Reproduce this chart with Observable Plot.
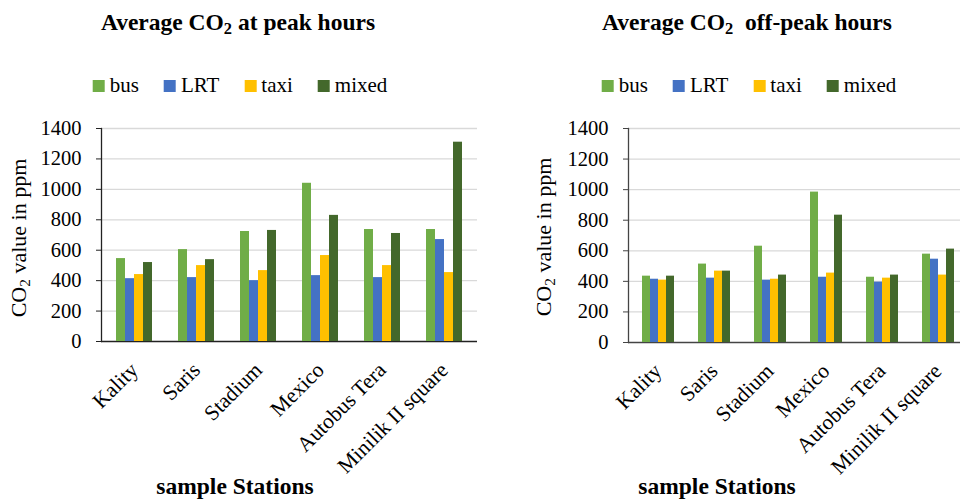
<!DOCTYPE html>
<html>
<head>
<meta charset="utf-8">
<script src="https://cdn.jsdelivr.net/npm/d3@7"></script>
<script src="https://cdn.jsdelivr.net/npm/@observablehq/plot@0.6"></script>
<style>
  html, body { margin: 0; padding: 0; background: #fff; overflow: hidden; }
  #page { position: relative; width: 960px; height: 499px; overflow: hidden;
          font-family: "Liberation Serif", "Times New Roman", serif; color: #000; }
  .abs { position: absolute; white-space: pre; line-height: 1; }
  .title { font-size: 23.5px; font-weight: bold; transform: translateX(-50%); }
  .xtitle { font-size: 23.5px; font-weight: bold; transform: translateX(-50%); }
  .ytitle { font-size: 22px; transform: translate(-50%, -50%) rotate(-90deg); }
  .legend { font-size: 21px; transform: translateX(-50%); }
  .legend .item { display: inline-block; margin-right: 25px; }
  .legend .item:last-child { margin-right: 0; }
  .legend .sw { display: inline-block; width: 12px; height: 12px; margin-right: 5px; }
  sub { font-size: 0.7em; vertical-align: -0.25em; line-height: 0; }
  svg { position: absolute; overflow: visible; }
</style>
</head>
<body>
<div id="page"></div>
<script>
// Sample stations along the route and the transport modes measured at each
const stations = ["Kality", "Saris", "Stadium", "Mexico", "Autobus Tera", "Minilik II square"];
const series = ["bus", "LRT", "taxi", "mixed"];
const colors = ["#70ad47", "#4472c4", "#ffc000", "#43682b"];
const yTicks = [0, 200, 400, 600, 800, 1000, 1200, 1400];

// Average CO2 (ppm) at peak hours, one array per mode, in station order
const peakBus   = [545, 604, 723, 1040, 736, 736];
const peakLRT   = [413, 420, 400, 433, 420, 670];
const peakTaxi  = [440, 499, 466, 565, 499, 453];
const peakMixed = [519, 538, 730, 829, 710, 1310];

// Average CO2 (ppm) at off-peak hours
const offBus   = [434, 513, 630, 984, 427, 578];
const offLRT   = [414, 421, 408, 427, 395, 545];
const offTaxi  = [408, 467, 414, 454, 421, 441];
const offMixed = [434, 467, 441, 833, 441, 611];

function toRows(cols) {
  const rows = [];
  stations.forEach((station, i) => {
    series.forEach((mode, j) => rows.push({station, mode, value: cols[j][i]}));
  });
  return rows;
}

const page = document.getElementById("page");

function addText(cls, html, left, top) {
  const d = document.createElement("div");
  d.className = "abs " + cls;
  d.innerHTML = html;
  d.style.left = left + "px";
  d.style.top = top + "px";
  page.appendChild(d);
  return d;
}

function addLegend(cx, top) {
  const d = addText("legend", "", cx, top);
  series.forEach((s, i) => {
    const item = document.createElement("span");
    item.className = "item";
    item.innerHTML = `<span class="sw" style="background:${colors[i]}"></span>${s}`;
    d.appendChild(item);
  });
}

const font = "'Liberation Serif', 'Times New Roman', serif";

function place(svg, left) {
  svg.style.left = left + "px";
  svg.style.top = "110px";
  page.appendChild(svg);
}

function barChart(rows, {left, width, marginLeft, marginBottom, padInner, padOuter, axisColor}) {
  const frame = {width, height: 389, marginTop: 18, marginBottom, marginLeft, marginRight: 3};
  const style = {fontFamily: font, fontSize: "20px", color: "#000", background: "transparent"};

  // Value axis, gridlines and axis lines spanning the whole plot area
  place(Plot.plot({
    ...frame, style,
    y: {domain: [0, 1400], axis: null},
    marks: [
      Plot.ruleY(yTicks.slice(1), {stroke: "#d9d9d9", strokeWidth: 1.3}),
      Plot.ruleY([0], {stroke: axisColor, strokeWidth: 1.5}),
      Plot.frame({anchor: "left", stroke: axisColor, strokeWidth: 1.3}),
      Plot.axisY({ticks: yTicks, tickFormat: d => String(d), tickSize: 5, tickPadding: 15,
                  stroke: axisColor, fill: "#000", fontSize: 20.5, fontFamily: font, label: null})
    ]
  }), left);

  // Grouped bars, one group per station
  place(Plot.plot({
    ...frame, style,
    fx: {domain: stations, paddingInner: padInner, paddingOuter: padOuter, label: null},
    x: {domain: series, paddingInner: 0, paddingOuter: 0, axis: null},
    y: {domain: [0, 1400], axis: null},
    color: {domain: series, range: colors},
    marks: [
      Plot.barY(rows, {fx: "station", x: "mode", y: "value", fill: "mode"}),
      Plot.axisFx({anchor: "bottom", tickRotate: -45, tickSize: 0, tickPadding: 25, dx: 0,
                   fill: "#000", fontSize: 21.5, fontFamily: font, label: null})
    ]
  }), left);
}

// Peak hours
addText("title", "Average CO<sub>2</sub> at peak hours", 238, 11);
addLegend(240, 75);
addText("ytitle", "CO<sub>2</sub> value in ppm", 19, 238);
barChart(toRows([peakBus, peakLRT, peakTaxi, peakMixed]),
  {left: 0, width: 480, marginLeft: 101, marginBottom: 158, padInner: 0.4255, padOuter: 0.2128, axisColor: "#222"});
addText("xtitle", "sample Stations", 235, 475);

// Off-peak hours
addText("title", "Average CO<sub>2</sub>  off-peak hours", 747, 11);
addLegend(749, 75);
addText("ytitle", "CO<sub>2</sub> value in ppm", 544, 237);
barChart(toRows([offBus, offLRT, offTaxi, offMixed]),
  {left: 480, width: 490, marginLeft: 148, marginBottom: 157, padInner: 0.41, padOuter: 0.205, axisColor: "#444"});
addText("xtitle", "sample Stations", 717, 475);
</script>
</body>
</html>
